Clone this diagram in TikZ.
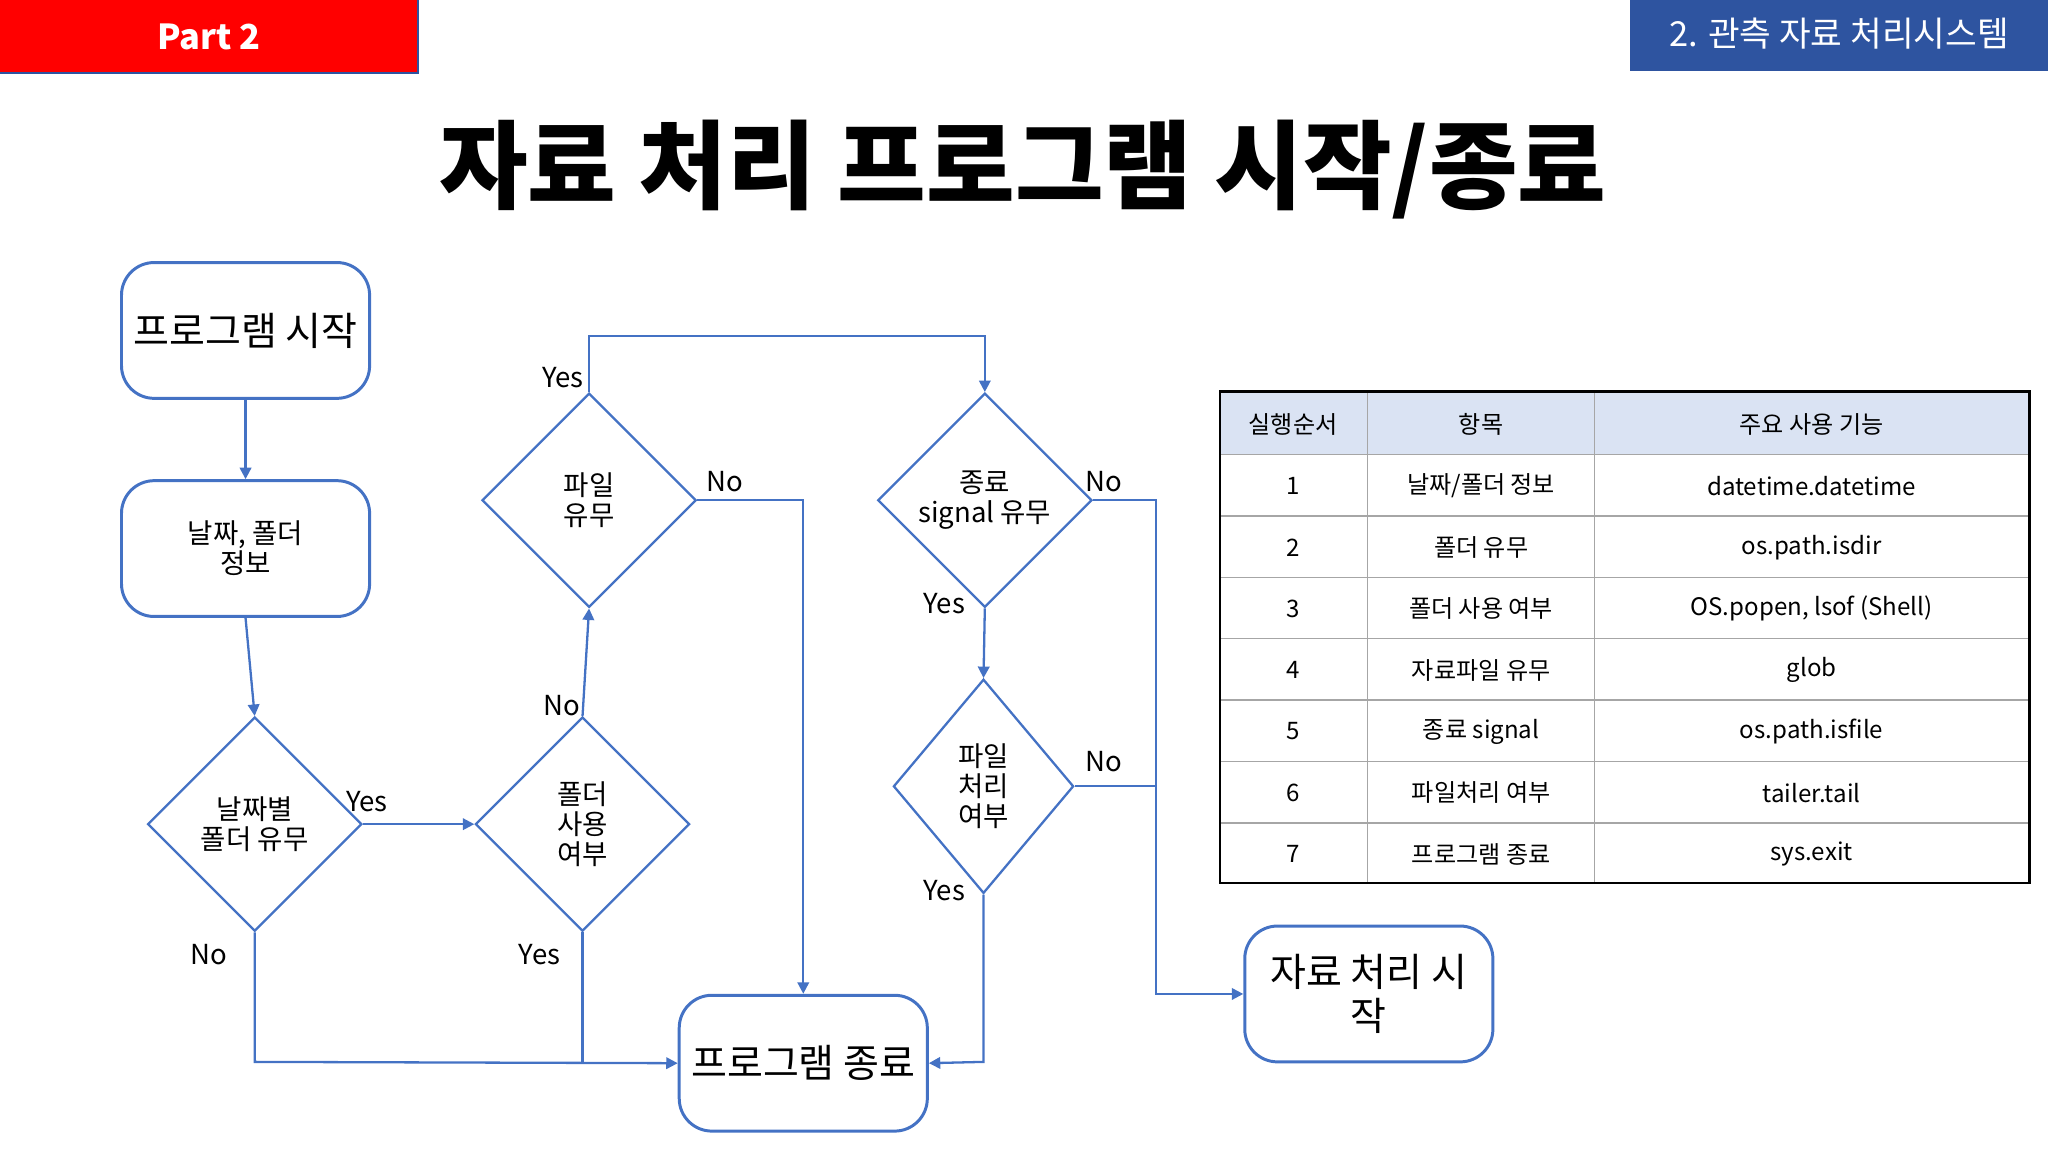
\documentclass[tikz,border=0pt]{standalone}
\usepackage{fontspec}
\setmainfont{Noto Sans CJK KR}
\usetikzlibrary{shapes.geometric,arrows.meta}
\definecolor{bl}{RGB}{68,114,196}
\definecolor{hdr}{RGB}{46,84,160}
\definecolor{thead}{RGB}{218,227,243}
\tikzset{
 rbox/.style={draw=bl,line width=1.3pt,rounded corners=0.5cm,minimum width=3.8cm,minimum height=2.08cm,align=center},
 dia/.style={draw=bl,line width=1pt,diamond,aspect=1,inner sep=0pt,minimum width=3.28cm,minimum height=3.28cm},
 dtxt/.style={align=center,font=\fontsize{12}{13}\selectfont},
 con/.style={draw=bl,line width=1pt,-{Triangle[length=5pt,width=5pt]}},
 ln/.style={draw=bl,line width=1pt},
 lab/.style={font=\fontsize{12}{13}\selectfont},
 tt/.style={font=\fontsize{10.5}{12}\selectfont}
}
\begin{document}
\begin{tikzpicture}[x=0.02cm,y=-0.02cm]
\useasboundingbox (0,0) rectangle (1568,882);
\fill[red] (0,0) rectangle (320,56);
\draw[hdr,line width=0.6pt] (0,56) -- (320,56) -- (320,0);
\node[white,font=\fontsize{15}{16}\selectfont\bfseries] (p2) at (160,28) {Part 2};
\fill[hdr] (1248,0) rectangle (1568,54);
\node[white,font=\fontsize{15}{16}\selectfont] (hd) at (1408,26) {2. 관측 자료 처리시스템};
\node[font=\fontsize{42}{44}\selectfont\bfseries] (title) at (783,130) {자료 처리 프로그램 시작/종료};

\node[rbox,font=\fontsize{17}{19}\selectfont] (start) at (188,253) {프로그램 시작};
\node[rbox,font=\fontsize{12}{13}\selectfont] (date) at (188,420) {날짜, 폴더\\정보};
\node[rbox,font=\fontsize{17}{19}\selectfont] (end) at (615,814) {프로그램 종료};
\node[rbox,font=\fontsize{17}{19}\selectfont] (proc) at (1048,761) {자료 처리 시\\작};

\node[dia] (d1) at (195,631) {}; \node[dtxt] (t1) at (d1.center) {날짜별\\폴더 유무};
\node[dia] (d2) at (446,631) {}; \node[dtxt] (t2) at (d2.center) {폴더\\사용\\여부};
\node[dia] (d3) at (451,383) {}; \node[dtxt] (t3) at (d3.center) {파일\\유무};
\node[dia] (d4) at (754,383) {}; \node[dtxt] (t4) at (d4.center) {종료\\signal 유무};
\node[dia,minimum width=2.76cm] (d5) at (753,602) {}; \node[dtxt] (t5) at (d5.center) {파일\\처리\\여부};

\draw[con] (start) -- (date);
\draw[con] (date.south) -- (d1.north);
\draw[con] (d1.east) -- (d2.west);
\node[lab] (l1) at (281,614) {Yes};
\coordinate (c1) at (195,813);
\draw[con] (d1.south) -- (c1) -- (end.west);
\node[lab] (l2) at (160,731) {No};
\draw[ln] (d2.south) -- (446,813);
\node[lab] (l3) at (413,731) {Yes};
\draw[con] (d2.north) -- (d3.south);
\node[lab] (l4) at (430,540) {No};
\draw[con] (d3.north) -- (451,257) -- (754,257) -- (d4.north);
\node[lab] (l5) at (431,289) {Yes};
\draw[con] (d3.east) -- (615,383) -- (end.north);
\node[lab] (l6) at (555,369) {No};
\draw[con] (d4.south) -- (d5.north);
\node[lab] (l7) at (723,462) {Yes};
\draw[con] (d4.east) -- (885,383) -- (885,761) -- (proc.west);
\node[lab] (l8) at (845,369) {No};
\draw[ln] (d5.east) -- (885,602);
\node[lab] (l9) at (845,583) {No};
\draw[con] (d5.south) -- (753,813) -- (end.east);
\node[lab] (l10) at (723,682) {Yes};

% table
\fill[thead] (934,300) rectangle (1554,348);
\foreach \y in {348,395,442,489,536,583,630} \draw[gray!70,line width=0.6pt] (934,\y) -- (1554,\y);
\foreach \x in {1047,1221} \draw[gray!70,line width=0.6pt] (\x,300) -- (\x,676);
\draw[black,line width=1.2pt] (934,300) rectangle (1554,676);
\node[tt] (h1) at (990,325) {실행순서};
\node[tt] (h2) at (1134,325) {항목};
\node[tt] (h3) at (1387,325) {주요 사용 기능};
\def\rowA{날짜/폴더 정보}
\foreach \n/\a/\b [count=\i] in {1/\rowA/datetime.datetime,2/폴더 유무/os.path.isdir,3/폴더 사용 여부/{OS.popen, lsof (Shell)},4/자료파일 유무/glob,5/종료 signal/os.path.isfile,6/파일처리 여부/tailer.tail,7/프로그램 종료/sys.exit}{
 \node[tt] at (990,{325+47*\i}) {\n};
 \node[tt] at (1134,{325+47*\i}) {\a};
 \node[tt] at (1387,{325+47*\i}) {\b};
}
\end{tikzpicture}
\end{document}
